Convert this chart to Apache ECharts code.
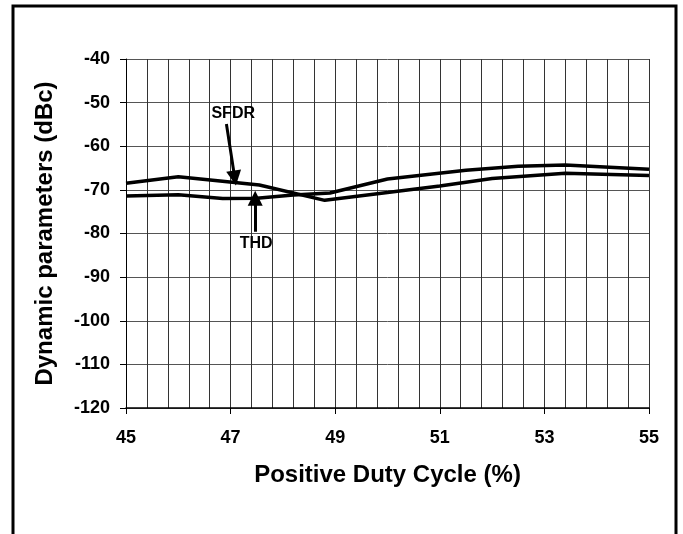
<!DOCTYPE html>
<html>
<head>
<meta charset="utf-8">
<script src="https://cdn.jsdelivr.net/npm/echarts@6/dist/echarts.min.js"></script>
<style>
  html, body { margin: 0; padding: 0; background: #fff; }
  #chart { width: 683px; height: 534px; }
</style>
</head>
<body>
<div id="chart"></div>
<script>
// duty cycle (%) and level (dBc)
const sfdrX = [45, 46, 47.55, 48.8, 50, 51, 52, 53.4, 55];
const sfdrY = [-68.5, -67.0, -68.9, -72.4, -70.6, -69.1, -67.4, -66.2, -66.7];
const thdX = [45, 46, 46.85, 47.5, 48.2, 48.9, 50, 51.5, 52.5, 53.4, 55];
const thdY = [-71.4, -71.1, -72.0, -71.9, -71.2, -70.7, -67.5, -65.5, -64.6, -64.3, -65.3];

const xMin = 45, xMax = 55;
const yMin = -120, yMax = -40;

// arrows + labels [x, y]
const sfdrArrow = [[46.92, -54.9], [47.08, -67.3]];
const thdArrow = [[47.47, -79.6], [47.47, -71.9]];
const sfdrLabel = [47.05, -52.6];
const thdLabel = [47.49, -82.4];

// x axis is shifted so the 0.4 grid starts at 0
const sx = v => +(v - xMin).toFixed(3);
const pairs = (xs, ys) => xs.map((x, i) => [sx(x), ys[i]]);

const bold = { fontFamily: 'Liberation Sans, Arial', fontWeight: 'bold', color: '#000' };

const chart = echarts.init(document.getElementById('chart'), null, { renderer: 'canvas' });
chart.setOption({
  animation: false,
  backgroundColor: '#fff',
  grid: { left: 126, right: 34, top: 59, bottom: 126 },
  graphic: [{
    type: 'rect',
    shape: { x: 13, y: 6, width: 663, height: 540 },
    style: { fill: 'none', stroke: '#000', lineWidth: 3 }
  }],
  xAxis: {
    type: 'value',
    min: 0, max: xMax - xMin, interval: 2,
    name: 'Positive Duty Cycle (%)',
    nameLocation: 'middle', nameGap: 55,
    nameTextStyle: Object.assign({ fontSize: 24 }, bold),
    axisLine: { show: true, lineStyle: { color: '#000', width: 1.5 } },
    axisTick: { show: true, length: 6, lineStyle: { color: '#000' } },
    axisLabel: Object.assign({ fontSize: 18, margin: 21, formatter: v => String(v + xMin) }, bold),
    splitLine: { show: true, lineStyle: { color: '#333', width: 1 } },
    minorTick: { show: false, splitNumber: 5 },
    minorSplitLine: { show: true, lineStyle: { color: '#333', width: 1 } }
  },
  yAxis: {
    type: 'value',
    min: yMin, max: yMax, interval: 10,
    name: 'Dynamic parameters (dBc)',
    nameLocation: 'middle', nameGap: 69,
    nameTextStyle: Object.assign({ fontSize: 24 }, bold),
    axisLine: { show: true, lineStyle: { color: '#000', width: 1 } },
    axisTick: { show: true, length: 6, lineStyle: { color: '#000' } },
    axisLabel: Object.assign({ fontSize: 18, margin: 16 }, bold),
    splitLine: { show: true, lineStyle: { color: '#555', width: 1 } }
  },
  series: [
    {
      name: 'SFDR',
      type: 'line',
      data: pairs(sfdrX, sfdrY),
      symbol: 'none',
      lineStyle: { color: '#000', width: 3.5 },
      markLine: {
        silent: true,
        symbol: ['none', 'triangle'],
        symbolSize: [15, 15],
        label: { show: false },
        lineStyle: { color: '#000', width: 3, type: 'solid' },
        data: [
          [{ coord: [sx(sfdrArrow[0][0]), sfdrArrow[0][1]] }, { coord: [sx(sfdrArrow[1][0]), sfdrArrow[1][1]] }],
          [{ coord: [sx(thdArrow[0][0]), thdArrow[0][1]] }, { coord: [sx(thdArrow[1][0]), thdArrow[1][1]] }]
        ]
      },
      markPoint: {
        silent: true,
        symbol: 'circle',
        symbolSize: 0,
        label: Object.assign({ show: true, position: 'inside', fontSize: 16, formatter: p => p.name }, bold),
        data: [
          { name: 'SFDR', coord: [sx(sfdrLabel[0]), sfdrLabel[1]] },
          { name: 'THD', coord: [sx(thdLabel[0]), thdLabel[1]] }
        ]
      }
    },
    {
      name: 'THD',
      type: 'line',
      data: pairs(thdX, thdY),
      symbol: 'none',
      lineStyle: { color: '#000', width: 3.5 }
    }
  ]
});
</script>
</body>
</html>
